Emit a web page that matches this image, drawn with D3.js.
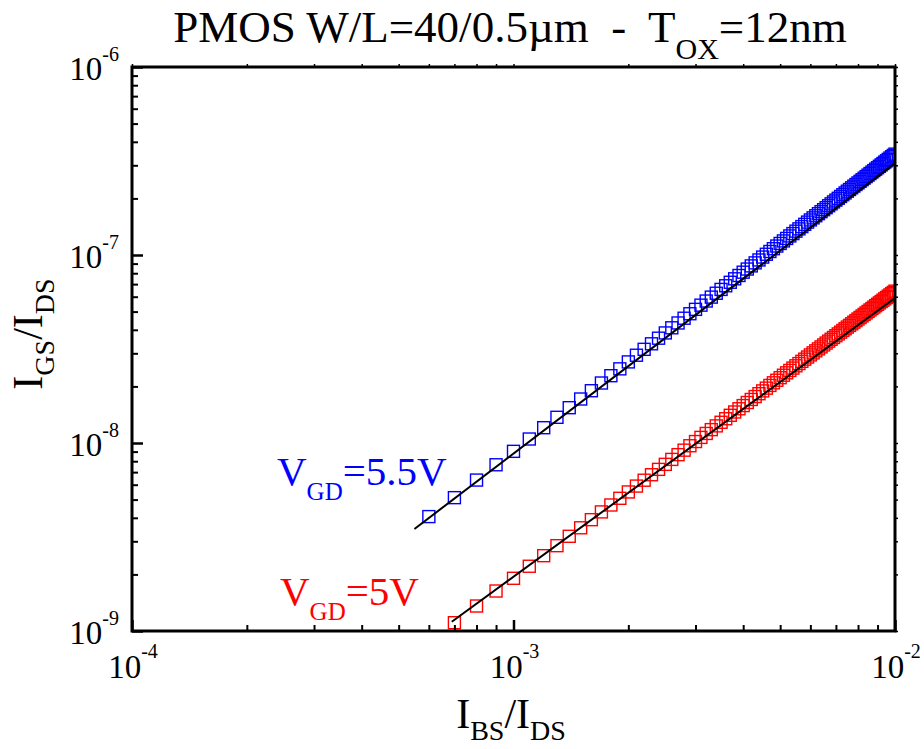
<!DOCTYPE html>
<html><head><meta charset="utf-8">
<script src="https://cdn.jsdelivr.net/npm/d3@7"></script>
<style>
body{margin:0;background:#fff}
svg text{font-family:"Liberation Serif",serif !important;white-space:pre}
</style>
</head><body><svg id="chart" width="924" height="749" font-family="Liberation Serif"></svg>
<script>
// ---------- data ----------
const xBlue = [0.0006,0.0007,0.0008,0.0009,0.0010,0.0011,0.0012,0.0013,0.0014,0.0015,0.0016,0.0017,0.0018,0.0019,0.0020,
0.0021,0.0022,0.0023,0.0024,0.0025,0.0026,0.0027,0.0028,0.0029,0.0030,0.0031,0.0032,0.0033,0.0034,0.0035,0.0036,0.0037,0.0038,0.0039,0.0040,
0.0041,0.0042,0.0043,0.0044,0.0045,0.0046,0.0047,0.0048,0.0049,0.0050,0.0051,0.0052,0.0053,0.0054,0.0055,0.0056,0.0057,0.0058,0.0059,0.0060,
0.0061,0.0062,0.0063,0.0064,0.0065,0.0066,0.0067,0.0068,0.0069,0.0070,0.0071,0.0072,0.0073,0.0074,0.0075,0.0076,0.0077,0.0078,0.0079,0.0080,
0.0081,0.0082,0.0083,0.0084,0.0085,0.0086,0.0087,0.0088,0.0089,0.0090,0.0091,0.0092,0.0093,0.0094,0.0095,0.0096,0.0097,0.0098,0.0099,0.0100];
const yBlue = [4.06e-9,5.12e-9,6.35e-9,7.66e-9,9.03e-9,1.050e-8,1.206e-8,1.370e-8,1.541e-8,1.714e-8,1.897e-8,2.085e-8,2.28e-8,2.48e-8,2.70e-8,
2.93e-8,3.15e-8,3.37e-8,3.61e-8,3.85e-8,4.10e-8,4.35e-8,4.61e-8,4.87e-8,5.14e-8,5.41e-8,5.69e-8,5.97e-8,6.26e-8,6.56e-8,6.86e-8,7.16e-8,7.47e-8,7.78e-8,8.10e-8,
8.42e-8,8.75e-8,9.08e-8,9.41e-8,9.75e-8,1.009e-7,1.044e-7,1.080e-7,1.116e-7,1.152e-7,1.188e-7,1.225e-7,1.263e-7,1.300e-7,1.339e-7,1.377e-7,1.416e-7,1.456e-7,1.496e-7,1.536e-7,
1.576e-7,1.617e-7,1.659e-7,1.700e-7,1.742e-7,1.785e-7,1.828e-7,1.871e-7,1.915e-7,1.959e-7,2.003e-7,2.048e-7,2.093e-7,2.138e-7,2.184e-7,2.230e-7,2.277e-7,2.324e-7,2.371e-7,2.418e-7,
2.466e-7,2.515e-7,2.563e-7,2.612e-7,2.661e-7,2.711e-7,2.761e-7,2.811e-7,2.862e-7,2.913e-7,2.964e-7,3.016e-7,3.068e-7,3.120e-7,3.172e-7,3.225e-7,3.279e-7,3.332e-7,3.386e-7,3.440e-7];
const xRed = [0.0007,0.0008,0.0009,0.0010,0.0011,0.0012,0.0013,0.0014,0.0015,0.0016,0.0017,0.0018,0.0019,0.0020,
0.0021,0.0022,0.0023,0.0024,0.0025,0.0026,0.0027,0.0028,0.0029,0.0030,0.0031,0.0032,0.0033,0.0034,0.0035,0.0036,0.0037,0.0038,0.0039,0.0040,
0.0041,0.0042,0.0043,0.0044,0.0045,0.0046,0.0047,0.0048,0.0049,0.0050,0.0051,0.0052,0.0053,0.0054,0.0055,0.0056,0.0057,0.0058,0.0059,0.0060,
0.0061,0.0062,0.0063,0.0064,0.0065,0.0066,0.0067,0.0068,0.0069,0.0070,0.0071,0.0072,0.0073,0.0074,0.0075,0.0076,0.0077,0.0078,0.0079,0.0080,
0.0081,0.0082,0.0083,0.0084,0.0085,0.0086,0.0087,0.0088,0.0089,0.0090,0.0091,0.0092,0.0093,0.0094,0.0095,0.0096,0.0097,0.0098,0.0099,0.0100];
const yRed = [1.107e-9,1.358e-9,1.632e-9,1.907e-9,2.21e-9,2.515e-9,2.843e-9,3.19e-9,3.54e-9,3.91e-9,4.30e-9,4.68e-9,5.08e-9,5.49e-9,
5.90e-9,6.34e-9,6.78e-9,7.24e-9,7.70e-9,8.18e-9,8.67e-9,9.16e-9,9.67e-9,1.018e-8,1.071e-8,1.124e-8,1.178e-8,1.233e-8,1.289e-8,1.346e-8,1.404e-8,1.462e-8,1.521e-8,1.581e-8,
1.642e-8,1.704e-8,1.766e-8,1.829e-8,1.893e-8,1.958e-8,2.024e-8,2.090e-8,2.157e-8,2.225e-8,2.293e-8,2.362e-8,2.432e-8,2.503e-8,2.574e-8,2.646e-8,2.719e-8,2.792e-8,2.866e-8,2.941e-8,
3.016e-8,3.092e-8,3.168e-8,3.245e-8,3.323e-8,3.402e-8,3.481e-8,3.561e-8,3.641e-8,3.722e-8,3.804e-8,3.886e-8,3.969e-8,4.052e-8,4.136e-8,4.221e-8,4.306e-8,4.392e-8,4.479e-8,4.566e-8,
4.653e-8,4.741e-8,4.830e-8,4.920e-8,5.010e-8,5.101e-8,5.192e-8,5.283e-8,5.376e-8,5.468e-8,5.562e-8,5.656e-8,5.750e-8,5.845e-8,5.940e-8,6.036e-8,6.133e-8,6.230e-8,6.327e-8,6.425e-8];
const fitBlueX = [5.5e-4, 1e-2];
const fitBlueY = [3.49e-9, 3.08e-7];
const fitRedX = [6.89e-4, 1e-2];
const fitRedY = [1.12e-9, 5.9e-8];
const xMajor = [1e-4, 1e-3, 1e-2];
const xMajorExp = ["-4", "-3", "-2"];
const yMajor = [1e-9, 1e-8, 1e-7, 1e-6];
const yMajorExp = ["-9", "-8", "-7", "-6"];

// ---------- layout ----------
const FONT = "Liberation Serif";
const W = 924, H = 749;
const L = 132, R = 895, T = 67, B = 631;
const svg = d3.select("#chart");
svg.append("rect").attr("width", W).attr("height", H).attr("fill", "#fff");

const x = d3.scaleLog().domain([1e-4, 1e-2]).range([L, R]);
const y = d3.scaleLog().domain([1e-9, 1e-6]).range([B, T]);

const minorOf = (d0, d1) => {
  const out = [];
  for (let e = Math.round(Math.log10(d0)); e < Math.round(Math.log10(d1)); e++)
    for (let k = 2; k <= 9; k++) out.push(k * Math.pow(10, e));
  return out;
};
const xMinor = minorOf(1e-4, 1e-2);
const yMinor = minorOf(1e-9, 1e-6);

svg.append("defs").append("clipPath").attr("id", "plotclip")
  .append("rect").attr("x", L).attr("y", T).attr("width", R - L).attr("height", B - T);

const plot = svg.append("g").attr("clip-path", "url(#plotclip)");

const line = d3.line().x(d => x(d[0])).y(d => y(d[1]));

function drawSeries(xs, ys, color) {
  const pts = xs.map((v, i) => [v, ys[i]]);
  plot.append("g").selectAll("rect").data(pts).join("rect")
    .attr("x", d => x(d[0]) - 6).attr("y", d => y(d[1]) - 6)
    .attr("width", 12).attr("height", 12)
    .attr("fill", "none").attr("stroke", color).attr("stroke-width", 1.4);
}
drawSeries(xBlue, yBlue, "#0000ff");
drawSeries(xRed, yRed, "#ff0000");

plot.append("path").datum(fitBlueX.map((v, i) => [v, fitBlueY[i]]))
  .attr("d", line).attr("fill", "none").attr("stroke", "#000").attr("stroke-width", 2);
plot.append("path").datum(fitRedX.map((v, i) => [v, fitRedY[i]]))
  .attr("d", line).attr("fill", "none").attr("stroke", "#000").attr("stroke-width", 2);

// ---------- axes ----------
function tickAxis(axisFn, scale, values, size, transform, width) {
  const g = svg.append("g").attr("transform", transform)
    .call(axisFn(scale).tickValues(values).tickSize(size).tickFormat(""));
  g.select(".domain").remove();
  g.selectAll(".tick line").attr("stroke", "#000").attr("stroke-width", width);
  return g;
}
tickAxis(d3.axisBottom, x, xMajor, -11, `translate(0,${B})`, 2.5);
tickAxis(d3.axisBottom, x, xMinor, -6, `translate(0,${B})`, 2);
tickAxis(d3.axisLeft, y, yMajor, -11, `translate(${L},0)`, 2.5);
tickAxis(d3.axisLeft, y, yMinor, -6, `translate(${L},0)`, 2);
tickAxis(d3.axisTop, x, xMajor.concat(xMinor), 3, `translate(0,${T})`, 1.5);
tickAxis(d3.axisRight, y, yMajor.concat(yMinor), 3, `translate(${R},0)`, 1.5);

svg.append("rect").attr("x", L).attr("y", T).attr("width", R - L).attr("height", B - T)
  .attr("fill", "none").attr("stroke", "#000").attr("stroke-width", 3);

function txt(parent) {
  return parent.append("text").attr("font-family", FONT).style("font-family", FONT);
}

// tick labels
xMajor.forEach((v, i) => {
  const t = txt(svg).attr("x", x(v) + 1).attr("y", 678)
    .attr("text-anchor", "middle").attr("font-size", 33).attr("fill", "#000");
  t.append("tspan").text("10");
  t.append("tspan").attr("font-size", 20).attr("dy", -20).text(xMajorExp[i]);
});
yMajor.forEach((v, i) => {
  const t = txt(svg).attr("x", 119).attr("y", y(v) + 13)
    .attr("text-anchor", "end").attr("font-size", 33).attr("fill", "#000");
  t.append("tspan").text("10");
  t.append("tspan").attr("font-size", 20).attr("dy", -19).text(yMajorExp[i]);
});

// axis titles
const xt = txt(svg).attr("x", 511).attr("y", 728).attr("text-anchor", "middle")
  .attr("font-size", 42).attr("fill", "#000");
xt.append("tspan").text("I");
xt.append("tspan").attr("font-size", 28).attr("dy", 12).text("BS");
xt.append("tspan").attr("dy", -12).text("/I");
xt.append("tspan").attr("font-size", 28).attr("dy", 12).text("DS");

const yt = txt(svg).attr("transform", "translate(42,334) rotate(-90)")
  .attr("text-anchor", "middle").attr("font-size", 42).attr("fill", "#000");
yt.append("tspan").text("I");
yt.append("tspan").attr("font-size", 28).attr("dy", 12).text("GS");
yt.append("tspan").attr("dy", -12).text("/I");
yt.append("tspan").attr("font-size", 28).attr("dy", 12).text("DS");

// title
const tt = txt(svg).attr("x", 510).attr("y", 42).attr("text-anchor", "middle")
  .attr("font-size", 45).attr("fill", "#000");
tt.append("tspan").text("PMOS W/L=40/0.5\u00b5m  -  T");
tt.append("tspan").attr("font-size", 30).attr("dy", 17).text("OX");
tt.append("tspan").attr("dy", -17).text("=12nm");

// series labels
function seriesLabel(px, py, value, color) {
  const t = txt(svg).attr("x", px).attr("y", py).attr("font-size", 41).attr("fill", color);
  t.append("tspan").text("V");
  t.append("tspan").attr("font-size", 25).attr("dy", 15).text("GD");
  t.append("tspan").attr("dy", -15).text(value);
}
seriesLabel(277, 485, "=5.5V", "#0000ff");
seriesLabel(280, 605, "=5V", "#ff0000");
</script></body></html>
